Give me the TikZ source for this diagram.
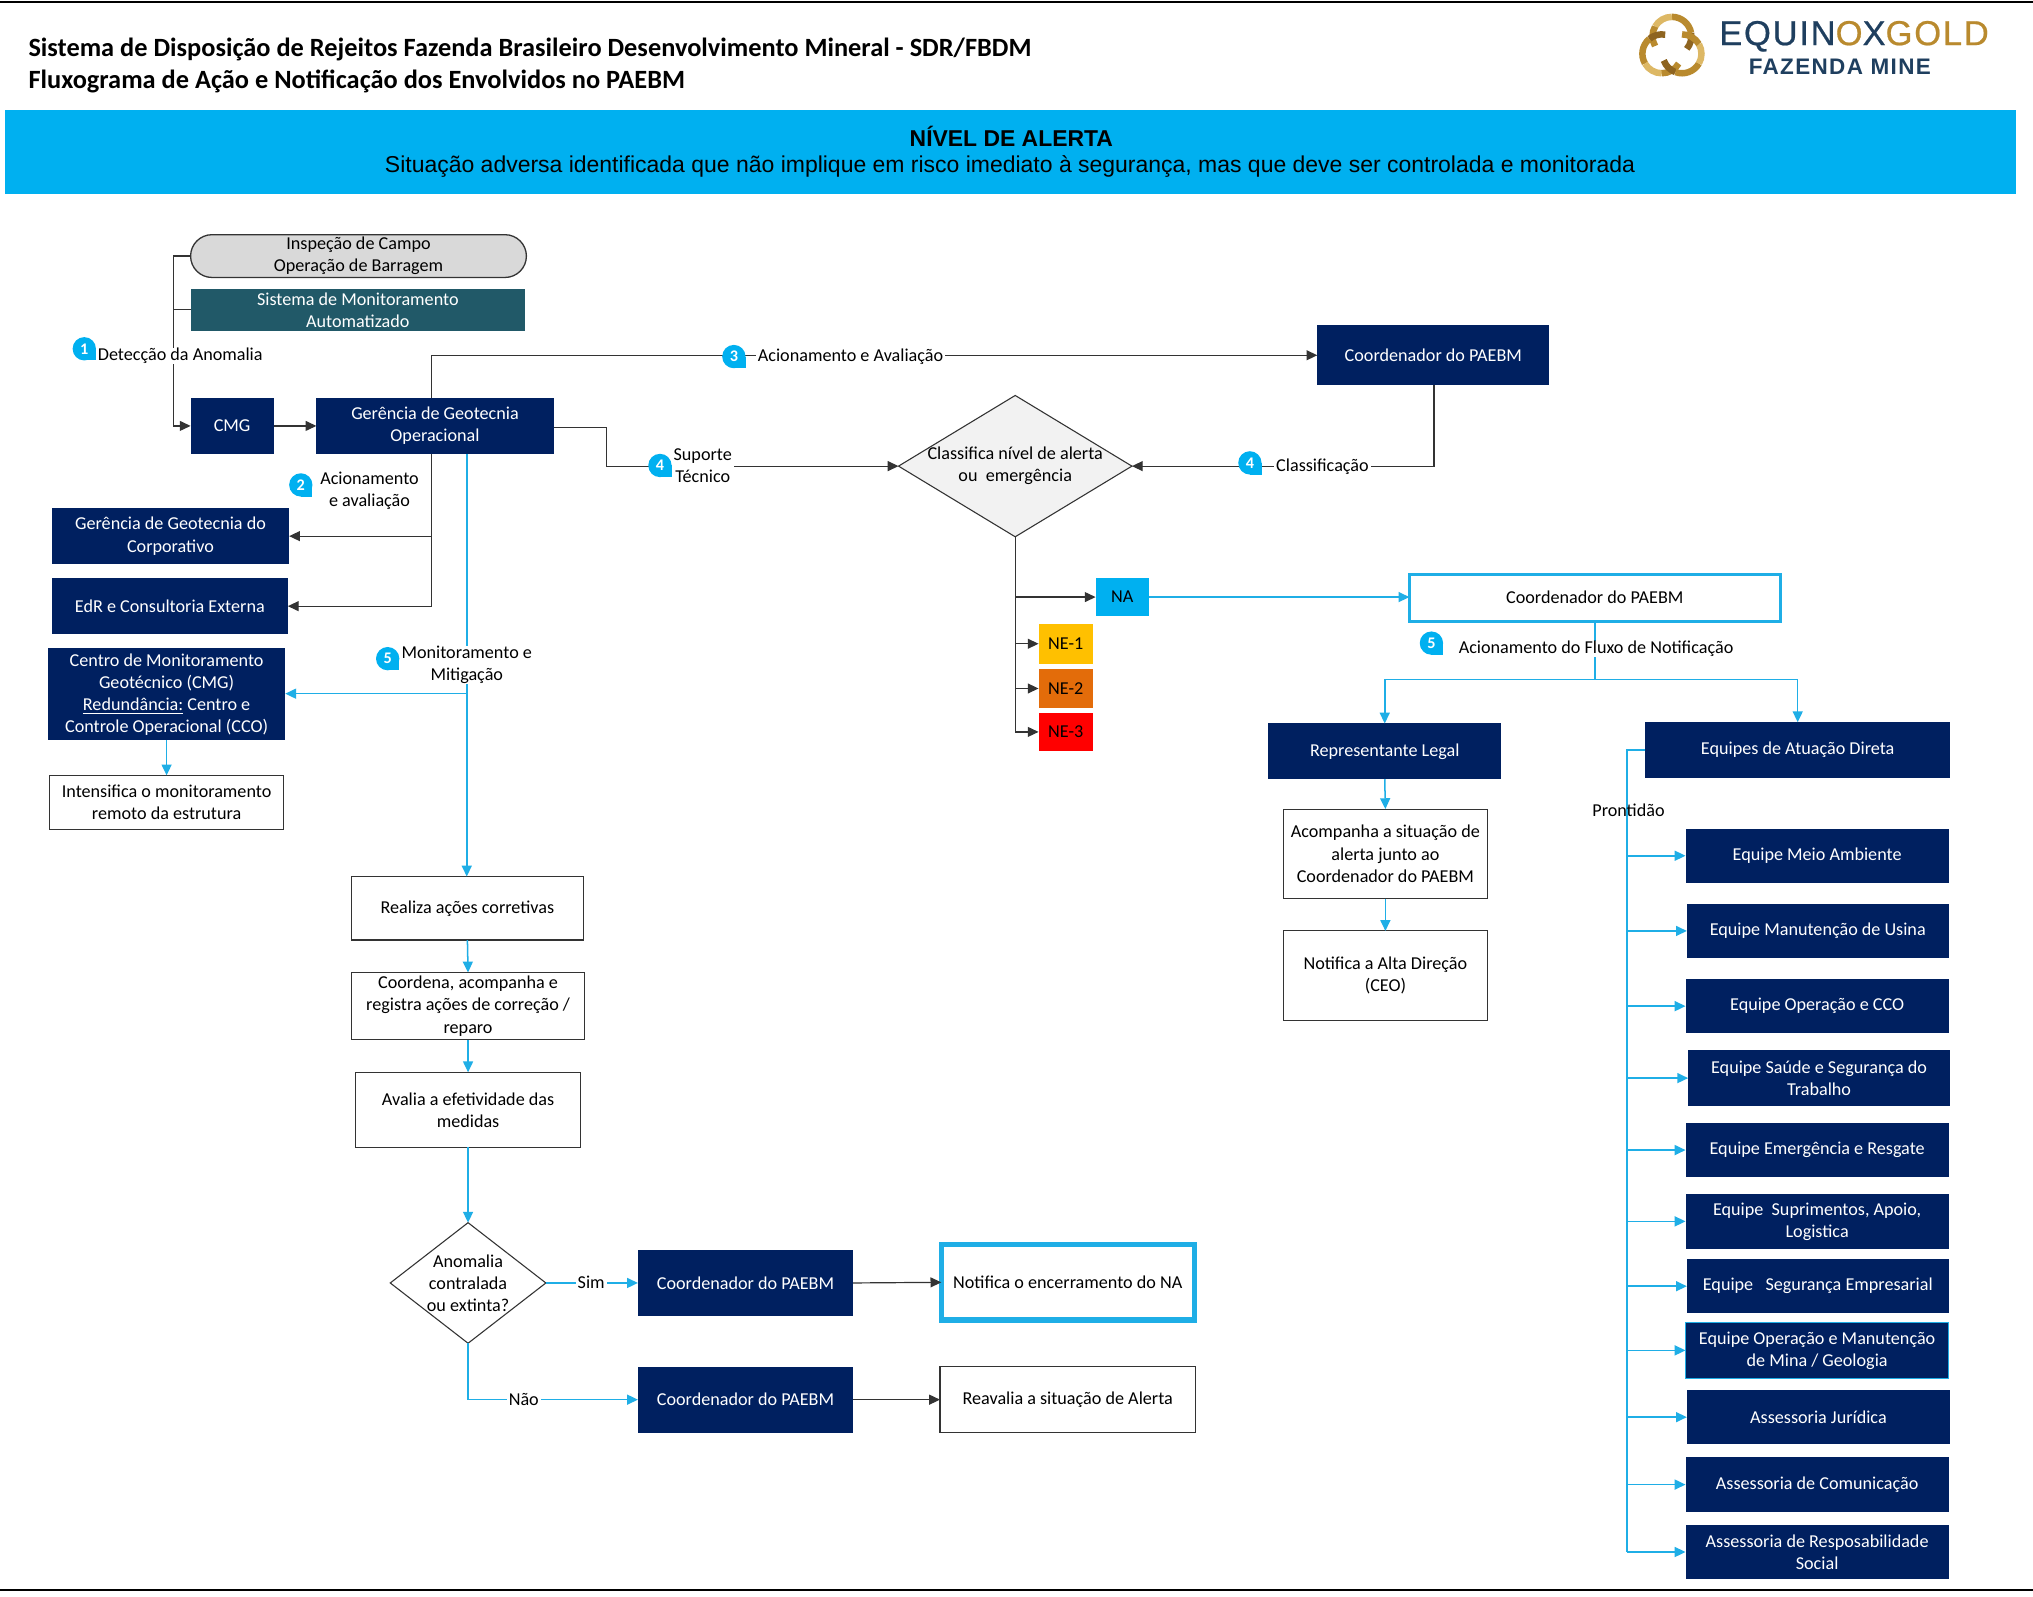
\documentclass[tikz,border=0pt]{standalone}
\usepackage{fontspec}
\setmainfont{Carlito}
\newfontfamily\arialf{Liberation Sans}
\newfontfamily\logof[FakeBold=0.6]{Liberation Sans}
\usetikzlibrary{arrows.meta,shapes.geometric,shapes.misc,calc}
\definecolor{navyC}{HTML}{002060}
\definecolor{tealC}{HTML}{215968}
\definecolor{cyanC}{HTML}{00B0F0}
\definecolor{lineC}{HTML}{1FAEE6}
\definecolor{darkL}{HTML}{333333}
\definecolor{goldC}{HTML}{B98A2E}
\definecolor{goldD}{HTML}{8E6420}
\definecolor{goldL}{HTML}{DDB865}
\definecolor{logoN}{HTML}{1F3F5F}
\definecolor{neA}{HTML}{FFC000}
\definecolor{neB}{HTML}{E36C0A}
\newcommand{\bodyf}{\fontsize{8.4}{10.2}\selectfont}
\newcommand{\uu}{0.6}
\newcommand{\bx}[7]{%
  \pgfmathsetmacro\cx{(#3+#5)/2}\pgfmathsetmacro\cy{(#4+#6)/2}%
  \pgfmathsetmacro\ww{(#5-#3)*\uu}\pgfmathsetmacro\hh{(#6-#4)*\uu}%
  \node[#2,minimum width=\ww pt,minimum height=\hh pt] (#1) at (\cx,\cy) {#7};}
\newcommand{\badge}[4]{%
  \fill[cyanC] (#2,#3) rectangle ++(9,9);
  \node[badgec] (#1) at (#2,#3) {#4};}
\tikzset{
  x=0.6pt,y=-0.6pt,
  every node/.style={font=\bodyf,inner sep=0pt,outer sep=0pt,align=center},
  navybox/.style={rectangle,fill=navyC,text=white},
  tealbox/.style={rectangle,fill=tealC,text=white},
  whitebox/.style={rectangle,draw=darkL,line width=0.5pt,fill=white,text=black},
  cyanbox/.style={rectangle,draw=lineC,line width=#1,fill=white,text=black},
  pill/.style={rounded rectangle,draw=darkL,line width=0.6pt,fill=black!15,text=black},
  levelbox/.style={rectangle,fill=#1,text=black},
  dia/.style={diamond,draw=darkL,line width=0.5pt,inner sep=-6pt,text=black},
  blk/.style={draw=darkL,line width=0.55pt,-{Triangle[length=5pt,width=4.6pt]}},
  blkn/.style={draw=darkL,line width=0.55pt},
  cya/.style={draw=lineC,line width=0.7pt,-{Triangle[length=5pt,width=4.6pt]}},
  cyan0/.style={draw=lineC,line width=0.7pt},
  lab/.style={fill=white,inner xsep=1pt,inner ysep=0pt,text=black},
  badgec/.style={circle,fill=cyanC,minimum size=10.8pt,text=white,font=\fontsize{7.5}{8}\selectfont\bfseries},
}
\begin{document}
\begin{tikzpicture}
\useasboundingbox (0,0) rectangle (1568,1231);
\fill[white] (0,0) rectangle (1568,1231);
\coordinate (tl) at (0,1.5); \coordinate (tr) at (1568,1.5);
\coordinate (bl) at (0,1226); \coordinate (br) at (1568,1226);
\draw[black,line width=1pt] (tl) -- (tr);
\draw[black,line width=1pt] (bl) -- (br);
% header
\node[anchor=west,font=\fontsize{12.2}{15}\selectfont\bfseries] (title1) at (22,38.5) {Sistema de Disposição de Rejeitos Fazenda Brasileiro Desenvolvimento Mineral - SDR/FBDM};
\node[anchor=west,font=\fontsize{12.2}{15}\selectfont\bfseries] (title2) at (22,62.5) {Fluxograma de Ação e Notificação dos Envolvidos no PAEBM};
% logo
\begin{scope}[shift={(1289.5,37)}]
\foreach \r in {0,120,240}{
  \begin{scope}[rotate=\r]
  \draw[goldD,line width=3pt] (0,-9) ++(40:15) arc[start angle=40,end angle=-10,radius=15];
  \draw[goldC,line width=3pt] (0,-9) ++(-10:15) arc[start angle=-10,end angle=-90,radius=15];
  \draw[goldL,line width=3pt] (0,-9) ++(-90:15) arc[start angle=-90,end angle=-150,radius=15];
  \draw[goldC,line width=3pt] (0,-9) ++(-150:15) arc[start angle=-150,end angle=-210,radius=15];
  \end{scope}
}
\end{scope}
\node[anchor=west,font=\logof\fontsize{16}{17}\selectfont] (logo1) at (1326,28) {\addfontfeature{LetterSpace=5}\textcolor{logoN}{EQUIN}\textcolor{goldC}{O}\textcolor{logoN}{X}\textcolor{goldC}{GOLD}};
\node[font=\arialf\bfseries\fontsize{10.4}{11}\selectfont,text=logoN] (logo2) at (1419,51.5) {\addfontfeature{LetterSpace=6}FAZENDA MINE};
% banner
\bx{banner}{rectangle,fill=cyanC}{4}{85}{1555}{150}{}
\node[font=\arialf\bfseries\fontsize{10.6}{12}\selectfont] (bt1) at (780,105.5) {NÍVEL DE ALERTA};
\node[font=\arialf\fontsize{10.63}{12}\selectfont] (bt2) at (779,128.5) {Situação adversa identificada que não implique em risco imediato à segurança, mas que deve ser controlada e monitorada};
% left column
\bx{insp}{pill}{147}{181}{406}{214}{Inspeção de Campo\\Operação de Barragem}
\bx{sist}{tealbox}{147}{223}{405}{255}{Sistema de Monitoramento\\Automatizado}
\bx{cmg}{navybox}{147}{307}{211}{350}{CMG}
\bx{gerop}{navybox}{244}{307}{427}{350}{Gerência de Geotecnia\\Operacional}
\bx{gercorp}{navybox}{40}{392}{223}{435}{Gerência de Geotecnia do\\Corporativo}
\bx{edr}{navybox}{40}{446}{222}{489}{EdR e Consultoria Externa}
\bx{centro}{navybox}{37}{500}{220}{571}{Centro de Monitoramento\\Geotécnico (CMG)\\\underline{Redundância:} Centro e\\Controle Operacional (CCO)}
\bx{intens}{whitebox}{38}{598}{219}{640}{Intensifica o monitoramento\\remoto da estrutura}
\bx{realiza}{whitebox}{271}{676}{450}{725}{Realiza ações corretivas}
\bx{coordena}{whitebox}{271}{750}{451}{802}{Coordena, acompanha e\\registra ações de correção /\\reparo}
\bx{avalia}{whitebox}{274}{827}{448}{885}{Avalia a efetividade das\\medidas}
\bx{anom}{dia,shape aspect=1.29}{301}{943}{421}{1036}{Anomalia\\contralada\\ou extinta?}
\bx{csim}{navybox}{492}{964}{658}{1015}{Coordenador do PAEBM}
\bx{notif}{cyanbox=2.4pt}{726}{960}{921}{1018}{Notifica o encerramento do NA}
\bx{cnao}{navybox}{492}{1054}{658}{1105}{Coordenador do PAEBM}
\bx{reav}{whitebox}{725}{1054}{922}{1105}{Reavalia a situação de Alerta}
% centre
\bx{ctop}{navybox}{1016}{251}{1195}{297}{Coordenador do PAEBM}
\bx{classi}{dia,fill=black!5,shape aspect=1.65}{693}{305}{873}{414}{Classifica nível de alerta\\ou\ \ emergência}
\bx{na}{levelbox=cyanC}{845}{446}{886}{475}{NA}
\bx{ne1}{levelbox=neA}{801}{481}{843}{512}{NE-1}
\bx{ne2}{levelbox=neB}{801}{516}{843}{546}{NE-2}
\bx{ne3}{levelbox=red}{801}{550}{843}{579}{NE-3}
% right
\bx{cna}{cyanbox=1.4pt}{1087}{443}{1373}{479}{Coordenador do PAEBM}
\bx{repr}{navybox}{978}{558}{1158}{601}{Representante Legal}
\bx{acomp}{whitebox}{990}{624}{1147}{693}{Acompanha a situação de\\alerta junto ao\\Coordenador do PAEBM}
\bx{alta}{whitebox}{990}{718}{1147}{787}{Notifica a Alta Direção\\(CEO)}
\bx{equipes}{navybox}{1269}{557}{1504}{600}{Equipes de Atuação Direta}
\bx{t1}{navybox}{1300}{639}{1503}{681}{Equipe Meio Ambiente}
\bx{t2}{navybox}{1301}{697}{1503}{739}{Equipe Manutenção de Usina}
\bx{t3}{navybox}{1300}{755}{1503}{797}{Equipe Operação e CCO}
\bx{t4}{navybox}{1302}{810}{1504}{853}{Equipe Saúde e Segurança do\\Trabalho}
\bx{t5}{navybox}{1300}{866}{1503}{908}{Equipe Emergência e Resgate}
\bx{t6}{navybox}{1300}{921}{1503}{963}{Equipe\ \ Suprimentos, Apoio,\\Logistica}
\bx{t7}{navybox}{1301}{971}{1503}{1013}{Equipe\ \ \ Segurança Empresarial}
\bx{t8}{navybox,draw=lineC,line width=0.6pt}{1300}{1020}{1503}{1063}{Equipe Operação e Manutenção\\de Mina / Geologia}
\bx{t9}{navybox}{1301}{1072}{1504}{1114}{Assessoria Jurídica}
\bx{t10}{navybox}{1300}{1124}{1503}{1166}{Assessoria de Comunicação}
\bx{t11}{navybox}{1300}{1176}{1503}{1218}{Assessoria de Resposabilidade\\Social}
% helper coordinates
\coordinate (tkL) at (134,0);
\coordinate (gx1) at (333,0);
\coordinate (gx2) at (360,0);
\coordinate (gy1) at (0,274);
\coordinate (gr) at (468,0);
\coordinate (gre) at (427,330);
\coordinate (cx1) at (1106,0);
\coordinate (tk2) at (1255,0);
\coordinate (nax) at (1230,0);
\coordinate (spl) at (0,524);
\coordinate (y535) at (0,535);
% black connectors
\draw[blk] (insp.west) -| (tkL |- cmg.west) -- (cmg.west);
\draw[blkn] (sist.west) -- (tkL |- sist.west);
\draw[blk] (cmg.east) -- (gerop.west);
\draw[blk] (gx1 |- gerop.north) -- (gx1 |- gy1) -- (ctop.west |- gy1);
\draw[blkn] (gx1 |- gerop.south) -- (gx1 |- edr.east);
\draw[blk] (gx1 |- gercorp.east) -- (gercorp.east);
\draw[blk] (gx1 |- edr.east) -- (edr.east);
\draw[blk] (gre) -- (gr |- gre) -- (gr |- classi.west) -- (classi.west);
\draw[blk] (cx1 |- ctop.south) -- (cx1 |- classi.east) -- (classi.east);
\draw[blkn] (classi.south) -- (classi.south |- ne3.west);
\draw[blk] (classi.south |- na.west) -- (na.west);
\draw[blk] (classi.south |- ne1.west) -- (ne1.west);
\draw[blk] (classi.south |- ne2.west) -- (ne2.west);
\draw[blk] (classi.south |- ne3.west) -- (ne3.west);
\draw[blk] (csim.east) -- (notif.west);
\draw[blk] (cnao.east) -- (reav.west);
% cyan connectors
\draw[cya] (na.east) -- (cna.west |- na.east);
\draw[cyan0] (nax |- cna.south) -- (nax |- spl);
\draw[cya] (nax |- spl) -| (repr.north);
\draw[cya] (nax |- spl) -| (equipes.north);
\draw[cya] (repr.south) -- (acomp.north);
\draw[cya] (acomp.south) -- (alta.north);
\draw[cyan0] (equipes.west) -- (tk2 |- equipes.west) -- (tk2 |- t11.west);
\foreach \t in {t1,t2,t3,t4,t5,t6,t7,t8,t9,t10,t11}{
  \draw[cya] (tk2 |- \t.west) -- (\t.west);
}
\draw[cya] (gx2 |- gerop.south) -- (gx2 |- realiza.north);
\draw[cya] (gx2 |- y535) -- (centro.east |- y535);
\draw[cya] (intens.north |- centro.south) -- (intens.north);
\draw[cya] (realiza.south) -- (coordena.north);
\draw[cya] (coordena.south) -- (avalia.north);
\draw[cya] (avalia.south) -- (anom.north);
\draw[cya] (anom.east) -- (csim.west);
\draw[cya] (anom.south) |- (cnao.west);
% labels
\node[lab] (l1) at (139,274.5) {Detecção da Anomalia};
\node[lab] (l2) at (285,378.5) {Acionamento\\e avaliação};
\node[lab] (l3) at (656,275) {Acionamento e Avaliação};
\node[lab] (l4) at (542,359.5) {Suporte\\Técnico};
\node[lab] (l5) at (1020,360) {Classificação};
\node[lab] (l6) at (360,513) {Monitoramento e\\Mitigação};
\node[lab] (l7) at (1231,500.5) {Acionamento do Fluxo de Notificação};
\node[lab] (l8) at (456,989) {Sim};
\node[lab] (l9) at (404,1079) {Não};
\node[text=black] (l10) at (1256,625) {Prontidão};
\badge{b1}{65}{269}{1}
\badge{b2}{232}{374}{2}
\badge{b3}{566}{275}{3}
\badge{b4}{509}{359}{4}
\badge{b5}{964}{357}{4}
\badge{b6}{299}{508}{5}
\badge{b7}{1104}{496}{5}
\end{tikzpicture}
\end{document}
